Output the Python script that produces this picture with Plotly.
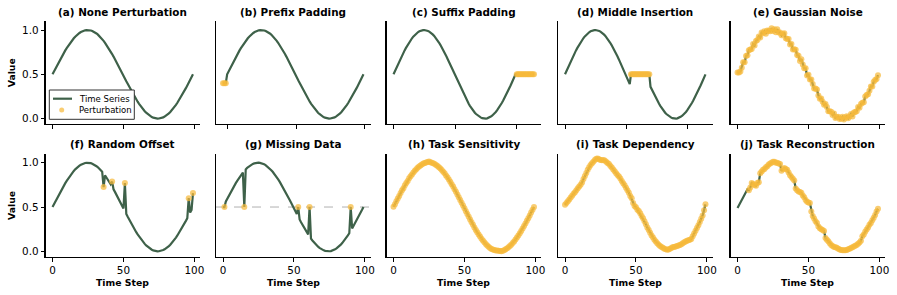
import plotly.graph_objects as go

# ---------------- data ----------------
TIME = list(range(100))
BASE = [0.500, 0.532, 0.563, 0.595, 0.626, 0.656, 0.686, 0.715, 0.743, 0.770,
        0.796, 0.821, 0.845, 0.867, 0.888, 0.907, 0.925, 0.941, 0.955, 0.967,
        0.977, 0.986, 0.992, 0.997, 0.999, 1.000, 0.998, 0.995, 0.989, 0.982,
        0.973, 0.961, 0.948, 0.933, 0.916, 0.898, 0.878, 0.856, 0.833, 0.809,
        0.784, 0.757, 0.729, 0.700, 0.671, 0.641, 0.610, 0.579, 0.548, 0.516,
        0.484, 0.452, 0.421, 0.390, 0.359, 0.329, 0.300, 0.271, 0.243, 0.216,
        0.191, 0.167, 0.144, 0.122, 0.102, 0.084, 0.067, 0.052, 0.039, 0.027,
        0.018, 0.011, 0.005, 0.002, 0.000, 0.001, 0.003, 0.008, 0.014, 0.023,
        0.033, 0.045, 0.059, 0.075, 0.093, 0.112, 0.133, 0.155, 0.179, 0.204,
        0.230, 0.257, 0.285, 0.314, 0.344, 0.374, 0.405, 0.437, 0.468, 0.500]

PREFIX_X = [-3, -2, -1]
PREFIX_VAL = [0.40, 0.40, 0.40]

SUFFIX_X = [100, 101, 102, 103, 104, 105, 106, 107, 108, 109, 110, 111, 112, 113, 114]
SUFFIX_VAL = [0.5] * len(SUFFIX_X)

INSERT_AT = 54
INSERT_VAL = [0.5] * 16

OFFSET_IDX = [36, 42, 51, 96, 99]
OFFSET_VAL = [0.725, 0.787, 0.770, 0.600, 0.657]

MISSING_IDX = [1, 15, 53, 61, 90]
MISSING_FILL = 0.5

NOISE_VALS = [0.520, 0.522, 0.533, 0.575, 0.636, 0.636, 0.706, 0.715, 0.773, 0.780,
              0.786, 0.841, 0.825, 0.877, 0.888, 0.927, 0.915, 0.971, 0.965, 0.987,
              0.957, 0.996, 0.992, 0.987, 1.019, 0.990, 1.008, 0.975, 1.009, 0.972,
              0.973, 0.941, 0.958, 0.963, 0.906, 0.898, 0.898, 0.836, 0.843, 0.779,
              0.784, 0.777, 0.719, 0.710, 0.651, 0.671, 0.610, 0.569, 0.568, 0.486,
              0.494, 0.442, 0.441, 0.390, 0.339, 0.339, 0.330, 0.261, 0.223, 0.226,
              0.191, 0.157, 0.164, 0.132, 0.082, 0.084, 0.077, 0.042, 0.059, 0.007,
              0.018, 0.021, -0.005, 0.002, 0.020, -0.009, 0.013, 0.028, 0.004, 0.023,
              0.053, 0.025, 0.069, 0.075, 0.083, 0.132, 0.123, 0.165, 0.179, 0.184,
              0.250, 0.267, 0.275, 0.314, 0.364, 0.364, 0.415, 0.437, 0.448, 0.490]

SENS_VALS = [0.502, 0.530, 0.566, 0.597, 0.624, 0.659, 0.688, 0.713, 0.746, 0.772,
             0.795, 0.824, 0.847, 0.866, 0.891, 0.909, 0.926, 0.944, 0.957, 0.970,
             0.980, 0.990, 0.996, 1.003, 1.008, 1.015, 1.006, 1.000, 0.993, 0.985,
             0.975, 0.963, 0.950, 0.934, 0.918, 0.899, 0.880, 0.857, 0.835, 0.810,
             0.786, 0.758, 0.731, 0.701, 0.673, 0.641, 0.611, 0.580, 0.549, 0.517,
             0.485, 0.452, 0.420, 0.389, 0.358, 0.328, 0.299, 0.270, 0.242, 0.215,
             0.190, 0.166, 0.143, 0.121, 0.101, 0.083, 0.066, 0.051, 0.038, 0.027,
             0.020, 0.014, 0.010, 0.008, 0.006, 0.004, 0.001, 0.006, 0.013, 0.022,
             0.033, 0.045, 0.059, 0.075, 0.093, 0.112, 0.133, 0.155, 0.179, 0.204,
             0.230, 0.257, 0.285, 0.314, 0.344, 0.374, 0.405, 0.437, 0.468, 0.500]

DEP_VALS = [0.526, 0.545, 0.566, 0.585, 0.608, 0.628, 0.650, 0.668, 0.690, 0.712,
            0.733, 0.752, 0.776, 0.815, 0.850, 0.885, 0.921, 0.950, 0.975, 0.995,
            1.012, 1.030, 1.045, 1.048, 1.040, 1.030, 1.028, 1.032, 1.024, 1.012,
            0.998, 0.985, 0.962, 0.945, 0.925, 0.903, 0.880, 0.862, 0.845, 0.822,
            0.795, 0.768, 0.745, 0.718, 0.690, 0.660, 0.625, 0.598, 0.545, 0.512,
            0.498, 0.470, 0.455, 0.430, 0.398, 0.372, 0.340, 0.305, 0.270, 0.240,
            0.210, 0.180, 0.155, 0.130, 0.110, 0.092, 0.075, 0.060, 0.048, 0.040,
            0.030, 0.022, 0.018, 0.020, 0.028, 0.038, 0.048, 0.050, 0.055, 0.060,
            0.065, 0.070, 0.080, 0.092, 0.102, 0.110, 0.118, 0.125, 0.130, 0.140,
            0.170, 0.200, 0.232, 0.262, 0.295, 0.330, 0.368, 0.405, 0.465, 0.530]

RECON_VALS = [0.490, 0.520, 0.550, 0.580, 0.610, 0.640, 0.670, 0.700, 0.690, 0.720,
              0.770, 0.760, 0.750, 0.740, 0.770, 0.780, 0.880, 0.900, 0.920, 0.930,
              0.950, 0.960, 0.980, 0.990, 1.000, 1.010, 1.010, 1.000, 1.000, 0.990,
              0.985, 0.910, 0.930, 0.940, 0.930, 0.920, 0.890, 0.860, 0.840, 0.820,
              0.800, 0.710, 0.690, 0.675, 0.670, 0.660, 0.630, 0.610, 0.580, 0.560,
              0.550, 0.545, 0.450, 0.400, 0.370, 0.340, 0.320, 0.280, 0.260, 0.250,
              0.240, 0.230, 0.150, 0.130, 0.115, 0.090, 0.070, 0.060, 0.050, 0.045,
              0.040, 0.030, 0.020, 0.015, 0.012, 0.012, 0.013, 0.015, 0.022, 0.030,
              0.038, 0.045, 0.055, 0.062, 0.070, 0.085, 0.100, 0.120, 0.170, 0.190,
              0.220, 0.245, 0.270, 0.300, 0.320, 0.350, 0.380, 0.410, 0.450, 0.480]
RECON_MARK_START = 8

TITLES = ["(a) None Perturbation", "(b) Prefix Padding", "(c) Suffix Padding",
          "(d) Middle Insertion", "(e) Gaussian Noise", "(f) Random Offset",
          "(g) Missing Data", "(h) Task Sensitivity", "(i) Task Dependency",
          "(j) Task Reconstruction"]
LEGEND_LABELS = ["Time Series", "Perturbation"]
X_TICKS = [0, 50, 100]
Y_TICKS = [0.0, 0.5, 1.0]

# ---------------- build panel series ----------------
panels = []
panels.append(dict(lx=TIME, ly=BASE, mx=[], my=[]))
panels.append(dict(lx=PREFIX_X + TIME, ly=PREFIX_VAL + BASE, mx=PREFIX_X, my=PREFIX_VAL))
panels.append(dict(lx=TIME + SUFFIX_X, ly=BASE + SUFFIX_VAL, mx=SUFFIX_X, my=SUFFIX_VAL))
d_y = BASE[:INSERT_AT] + INSERT_VAL + BASE[INSERT_AT:]
d_x = list(range(len(d_y)))
panels.append(dict(lx=d_x, ly=d_y,
                   mx=d_x[INSERT_AT:INSERT_AT + len(INSERT_VAL)], my=INSERT_VAL))
panels.append(dict(lx=TIME, ly=NOISE_VALS, mx=TIME, my=NOISE_VALS))
f_y = list(BASE)
for i, v in zip(OFFSET_IDX, OFFSET_VAL):
    f_y[i] = v
panels.append(dict(lx=TIME, ly=f_y, mx=OFFSET_IDX, my=OFFSET_VAL))
g_y = list(BASE)
for i in MISSING_IDX:
    g_y[i] = MISSING_FILL
panels.append(dict(lx=TIME, ly=g_y, mx=MISSING_IDX, my=[MISSING_FILL] * len(MISSING_IDX)))
panels.append(dict(lx=TIME, ly=SENS_VALS, mx=TIME, my=SENS_VALS))
panels.append(dict(lx=TIME, ly=DEP_VALS, mx=TIME, my=DEP_VALS))
panels.append(dict(lx=TIME, ly=RECON_VALS, mx=TIME[RECON_MARK_START:],
                   my=RECON_VALS[RECON_MARK_START:]))

# ---------------- style / layout ----------------
W, H = 897, 295
LINE_C = "#3e6149"
MARK_C = "rgba(247,186,60,0.72)"
FONT = "DejaVu Sans"
lefts = [45.5, 216, 386.5, 558, 730.5]   # px
pw = 154.5
rows_px = [(21.1, 124.1), (153.8, 256.8)]


def px_x(p):
    return p / W


def px_y(p):
    return 1 - p / H


all_y = []
for p in panels:
    all_y += p["ly"]
ylo, yhi = min(all_y), max(all_y)
ypad = 0.05 * (yhi - ylo)
YR = [ylo - ypad, yhi + ypad]

fig = go.Figure()
layout = dict(width=W, height=H, margin=dict(l=0, r=0, t=0, b=0, autoexpand=False),
              plot_bgcolor="white", paper_bgcolor="white",
              font=dict(family=FONT, size=10.4, color="black"),
              showlegend=False, hovermode=False)
annotations = []
shapes = []

for k, p in enumerate(panels):
    r, c = divmod(k, 5)
    ax = k + 1
    xa = "x" if ax == 1 else f"x{ax}"
    ya = "y" if ax == 1 else f"y{ax}"
    fig.add_trace(go.Scatter(x=p["lx"], y=p["ly"], mode="lines",
                             line=dict(color=LINE_C, width=2.2),
                             name=LEGEND_LABELS[0],
                             xaxis=xa, yaxis=ya, hoverinfo="skip"))
    fig.add_trace(go.Scatter(x=p["mx"], y=p["my"], mode="markers",
                             marker=dict(color=MARK_C, size=6, line=dict(width=0)),
                             name=LEGEND_LABELS[1],
                             xaxis=xa, yaxis=ya, hoverinfo="skip"))
    xmin, xmax = min(p["lx"]), max(p["lx"])
    xpad = 0.05 * (xmax - xmin)
    x0 = px_x(lefts[c])
    x1 = px_x(lefts[c] + pw)
    top, bot = rows_px[r]
    y0 = px_y(bot)
    y1 = px_y(top)
    layout[f"xaxis{ax}"] = dict(domain=[x0, x1], anchor=ya, range=[xmin - xpad, xmax + xpad],
                               tickvals=X_TICKS, showticklabels=(r == 1),
                               ticks="outside", ticklen=3.5, tickwidth=1, tickcolor="black",
                               showline=True, linecolor="black", linewidth=1.3,
                               showgrid=False, zeroline=False, fixedrange=True,
                               tickfont=dict(size=10.4, family=FONT))
    layout[f"yaxis{ax}"] = dict(domain=[y0, y1], anchor=xa, range=YR,
                               tickvals=Y_TICKS, ticktext=["0.0", "0.5", "1.0"],
                               showticklabels=(c == 0),
                               ticks="outside" if c == 0 else "", ticklen=3.5, tickwidth=1,
                               tickcolor="black",
                               showline=True, linecolor="black", linewidth=1.3,
                               showgrid=False, zeroline=False, fixedrange=True,
                               tickfont=dict(size=10.4, family=FONT))
    annotations.append(dict(text=f"<b>{TITLES[k]}</b>", x=(x0 + x1) / 2, y=px_y(top - 9.5),
                            xref="paper", yref="paper", showarrow=False,
                            xanchor="center", yanchor="middle",
                            font=dict(size=10.4, family=FONT, color="black")))
    if c == 0:
        annotations.append(dict(text="<b>Value</b>", x=px_x(11.7), y=(y0 + y1) / 2,
                                xref="paper", yref="paper", showarrow=False, textangle=-90,
                                xanchor="center", yanchor="middle",
                                font=dict(size=9.3, family=FONT, color="black")))
    if r == 1:
        annotations.append(dict(text="<b>Time Step</b>", x=(x0 + x1) / 2, y=px_y(282.3),
                                xref="paper", yref="paper", showarrow=False,
                                xanchor="center", yanchor="middle",
                                font=dict(size=9.3, family=FONT, color="black")))
    if k == 6:
        shapes.append(dict(type="line", xref=f"{xa} domain", yref=ya,
                           x0=0, x1=1, y0=MISSING_FILL, y1=MISSING_FILL,
                           line=dict(color="#b0b0b0", width=1, dash="dash"), layer="below"))

# legend box (drawn in panel (a), like matplotlib's legend)
shapes.append(dict(type="rect", xref="paper", yref="paper",
                   x0=px_x(49.3), x1=px_x(134.3), y0=px_y(119.3), y1=px_y(90),
                   line=dict(color="#333333", width=1), fillcolor="white", layer="above"))
shapes.append(dict(type="line", xref="paper", yref="paper",
                   x0=px_x(53), x1=px_x(72), y0=px_y(98.7), y1=px_y(98.7),
                   line=dict(color=LINE_C, width=2.2), layer="above"))
shapes.append(dict(type="circle", xref="paper", yref="paper",
                   x0=px_x(59.2), x1=px_x(64.2), y0=px_y(112.5), y1=px_y(107.5),
                   line=dict(width=0), fillcolor=MARK_C, layer="above"))
for lab, yy in zip(LEGEND_LABELS, [98.7, 110.0]):
    annotations.append(dict(text=lab, x=px_x(77.3), y=px_y(yy), xref="paper", yref="paper",
                            showarrow=False, xanchor="left", yanchor="middle",
                            font=dict(size=8.5, family=FONT, color="black")))

layout["annotations"] = annotations
layout["shapes"] = shapes
fig.update_layout(**layout)
# remove the browser's default 8px body margin so the figure fills the window exactly
fig.write_html("out.html", config={"displayModeBar": False, "staticPlot": True},
               post_script="document.body.style.margin='0px';")
